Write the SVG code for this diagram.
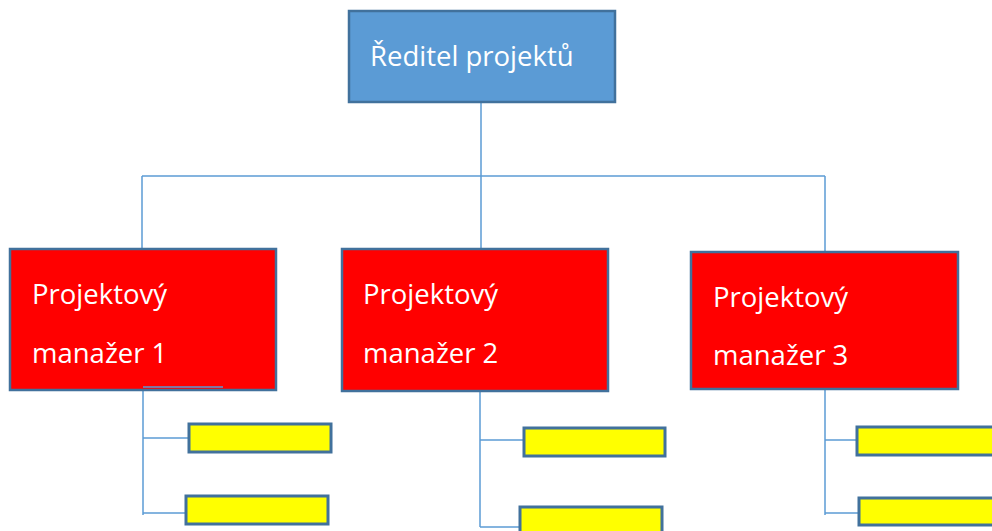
<svg xmlns="http://www.w3.org/2000/svg" width="992" height="531" viewBox="0 0 992 531">
  <style>
    .conn { stroke: #5B9BD5; stroke-width: 1.5; fill: none; }
    .director { fill: #5B9BD5; stroke: #41719C; stroke-width: 2.5; }
    .manager { fill: #FF0000; stroke: #41719C; stroke-width: 2.5; }
    .task { fill: #FFFF00; stroke: #41719C; stroke-width: 3; }
    .label { font-family: "Open Sans", "Noto Sans", "Liberation Sans", sans-serif; font-size: 27.5px; fill: #FFFFFF; }
  </style>
  <rect width="992" height="531" fill="#FFFFFF"/>

  <g id="connectors">
    <!-- director to managers -->
    <line class="conn" x1="481" y1="103" x2="481" y2="249"/>
    <line class="conn" x1="142" y1="176" x2="825" y2="176"/>
    <line class="conn" x1="142" y1="176" x2="142" y2="248"/>
    <line class="conn" x1="825" y1="176" x2="825" y2="252"/>
    <!-- manager 1 tasks -->
    <line class="conn" x1="143" y1="390" x2="143" y2="515"/>
    <line class="conn" x1="143" y1="438" x2="188" y2="438"/>
    <line class="conn" x1="143" y1="513" x2="186" y2="513"/>
    <!-- manager 2 tasks -->
    <line class="conn" x1="480" y1="392" x2="480" y2="527"/>
    <line class="conn" x1="480" y1="440" x2="523" y2="440"/>
    <line class="conn" x1="480" y1="527" x2="519" y2="527"/>
    <!-- manager 3 tasks -->
    <line class="conn" x1="825" y1="389" x2="825" y2="515"/>
    <line class="conn" x1="825" y1="440" x2="857" y2="440"/>
    <line class="conn" x1="825" y1="513" x2="858" y2="513"/>
  </g>

  <g id="director">
    <rect class="director" x="349" y="11" width="266" height="91"/>
    <text class="label" x="370" y="66">Ředitel projektů</text>
  </g>

  <g id="manager1">
    <rect class="manager" x="10" y="249" width="266" height="141"/>
    <text class="label" x="32" y="304">Projektový</text>
    <text class="label" x="32" y="363">manažer 1</text>
    <line class="conn" x1="143" y1="387" x2="223" y2="387"/>
  </g>

  <g id="manager2">
    <rect class="manager" x="342" y="249" width="266" height="142"/>
    <text class="label" x="363" y="304">Projektový</text>
    <text class="label" x="363" y="363">manažer 2</text>
  </g>

  <g id="manager3">
    <rect class="manager" x="691" y="252" width="267" height="137"/>
    <text class="label" x="713" y="307">Projektový</text>
    <text class="label" x="713" y="365">manažer 3</text>
  </g>

  <g id="task1a"><rect class="task" x="189" y="424" width="142" height="28"/></g>
  <g id="task1b"><rect class="task" x="186" y="496" width="142" height="28"/></g>
  <g id="task2a"><rect class="task" x="524" y="428" width="141" height="28"/></g>
  <g id="task2b"><rect class="task" x="520" y="507" width="142" height="30"/></g>
  <g id="task3a"><rect class="task" x="857" y="427" width="145" height="28"/></g>
  <g id="task3b"><rect class="task" x="859" y="498" width="145" height="27"/></g>
</svg>
